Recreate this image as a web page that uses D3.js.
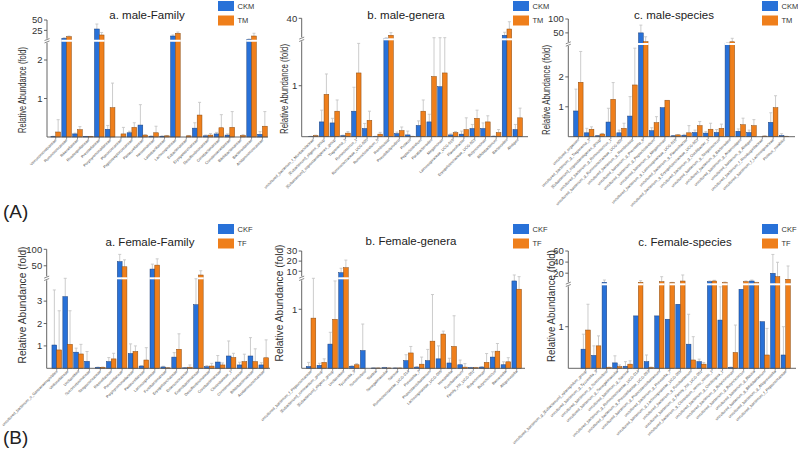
<!DOCTYPE html>
<html><head><meta charset="utf-8">
<script src="https://cdn.jsdelivr.net/npm/d3@7/dist/d3.min.js"></script>
<style>body{margin:0;background:#fff}svg{display:block}text{font-family:"Liberation Sans",Arial,sans-serif}</style>
</head><body><svg id="c" width="798" height="458"></svg>
<script>
// ---------- DATA ----------
const maleFamilyCategories = ["Verrucomicrobiaceae","Ruminococcaceae","Rikenellaceae","Rhodospirillaceae","Prevotellaceae","Porphyromonadaceae","Planococcaceae","Peptostreptococcaceae","Pasteurellaceae","Neisseriaceae","Lactobacillaceae","Lachnospiraceae","Eubacteriaceae","Erysipelotrichaceae","Desulfovibrionaceae","Coriobacteriaceae","Christensenellaceae","Bifidobacteriaceae","Bacteroidaceae","Acidaminococcaceae"];
const maleFamilyCKM   = [0.01,5.9,0.08,0.01,28.3,0.2,0.0,0.11,0.31,0.02,0.02,11.4,0.0,0.23,0.03,0.08,0.05,0.0,3.5,0.07];
const maleFamilyCKMsd = [0.01,1.5,0.02,0.005,12,0.1,0,0.04,0.53,0.01,0.01,2.5,0,0.14,0.02,0.04,0.03,0,0.8,0.07];
const maleFamilyTM    = [0.13,9.8,0.19,0.01,13.9,0.76,0.08,0.25,0.05,0.11,0.03,17.9,0.03,0.57,0.05,0.24,0.25,0.04,11.4,0.28];
const maleFamilyTMsd  = [0.32,1.6,0.08,0.005,6,0.64,0.17,0.12,0.01,0.17,0.01,3,0.01,0.33,0.04,0.34,0.41,0.02,6.6,0.38];
const maleFamilyLowTicks = [1,2];
const maleFamilyHighTicks = [25,50];

const maleGeneraCategories = ["uncultured_bacterium_f_Muribaculaceae","[Eubacterium]_eligens_group","[Eubacterium]_coprostanoligenes_group","Treponema_2","Ruminococcus_1","Ruminococcaceae_UCG-005","Ruminiclostridium_5","Romboutsia","Pseudobutyrivibrio","Proteus","Peptoclostridium","Parabacteroides","Megamonas","Lachnospiraceae_UCG-010","Flavonifractor","Erysipelotrichaceae_UCG-003","Butyricimonas","Bifidobacterium","Bacteroides","Alistipes"];
const maleGeneraCKM   = [0.005,0.29,0.27,0.02,0.5,0.16,0.005,3.8,0.06,0.035,0.22,0.29,0.98,0.035,0.05,0.16,0.16,0.01,9.2,0.14];
const maleGeneraCKMsd = [0.003,0.23,0.09,0.01,0.47,0.1,0.003,1.0,0.03,0.075,0.09,0.15,3.9,0.02,0.06,0.08,0.11,0.005,5.5,0.1];
const maleGeneraTM    = [0.02,0.83,0.5,0.07,1.25,0.32,0.05,9.2,0.12,0.005,0.5,1.18,1.25,0.08,0.14,0.36,0.29,0.08,20.6,0.37];
const maleGeneraTMsd  = [0.01,0.4,0.22,0.03,0.58,0.18,0.035,4.8,0.07,0.003,0.22,3.7,3.65,0.02,0.23,0.16,0.12,0.06,13.2,0.19];
const maleGeneraLowTicks = [1];
const maleGeneraHighTicks = [40];

const maleSpeciesCategories = ["uncultured_organism","uncultured_bacterium_g_Treponema_2","[Eubacterium]_coprostanoligenes_group","uncultured_bacterium_g_Ruminococcus_1","uncultured_bacterium_g_Ruminococcaceae_UCG-005","uncultured_bacterium_g_Romboutsia","uncultured_bacterium_g_Prevotella_9","uncultured_bacterium_g_Peptoclostridium","uncultured_bacterium_g_Megamonas","uncultured_bacterium_g_Lachnospiraceae_UCG-010","uncultured_bacterium_g_Flavonifractor","uncultured_bacterium_g_Erysipelotrichaceae_UCG-003","uncultured_bacterium_g_Oscillibacter_1","uncultured_bacterium_g_Streptococcus","uncultured_bacterium_g_Bacteroides","uncultured_bacterium_g_Anaerostipes","uncultured_bacterium_g_Alistipes","uncultured_bacterium_f_Rhodospirillaceae","uncultured_bacterium_f_Lachnospiraceae","Proteus_mirabilis"];
const maleSpeciesCKM   = [0.86,0.13,0.03,0.49,0.13,0.69,50,0.2,0.97,0.03,0.05,0.14,0.12,0.14,11,0.18,0.14,0.0,0.48,0.04];
const maleSpeciesCKMsd = [0.73,0.15,0.01,0.46,0.09,0.65,28,0.1,0,0.01,0.03,0.08,0.05,0.1,3,0.08,0.08,0,0.32,0.06];
const maleSpeciesTM    = [1.82,0.25,0.09,1.25,0.28,1.73,18.3,0.47,1.22,0.06,0.13,0.37,0.25,0.28,18,0.4,0.37,0.02,0.97,0.01];
const maleSpeciesTMsd  = [1.03,0.08,0.02,0.56,0.17,1.23,17.7,0.2,0,0.01,0.24,0.14,0.2,0.14,12.5,0.22,0.2,0.01,0.4,0.005];
const maleSpeciesLowTicks = [1,2];
const maleSpeciesHighTicks = [50,100];

const femaleFamilyCategories = ["uncultured_bacterium_o_Gastranaerophilales","Veillonellaceae","Unclassified","Succinivibrionaceae","Streptococcaceae","Rikenellaceae","Prevotellaceae","Porphyromonadaceae","Pasteurellaceae","Lachnospiraceae","Fusobacteriaceae","Erysipelotrichaceae","Enterococcaceae","Enterobacteriaceae","Desulfovibrionaceae","Coriobacteriaceae","Clostridiaceae_1","Christensenellaceae","Bifidobacteriaceae","Acidaminococcaceae"];
const femaleFamilyCKF   = [1.04,3.2,0.72,0.31,0.045,0.3,62.6,0.66,0.1,40,0.06,0.5,0.02,2.84,0.07,0.28,0.55,0.15,0.55,0.15];
const femaleFamilyCKFsd = [2.46,0.9,0.18,0.44,0.01,0.18,22,0.43,0.02,15,0.03,0.2,0.01,1.16,0.05,0.29,0.67,0.12,0.82,0.1];
const femaleFamilyTF    = [0.82,1.07,0.64,0.0,0.045,0.42,47,0.75,0.37,52,0.02,0.85,0.05,22,0.1,0.15,0.48,0.3,0.3,0.47];
const femaleFamilyTFsd  = [1.75,1.5,0.43,0,0.01,0.25,21,0.25,0.55,19,0.01,0.69,0.1,13,0.12,0.09,0.19,0.33,0.57,0.8];
const femaleFamilyLowTicks = [1,2,3];
const femaleFamilyHighTicks = [50,100];

const femaleGeneraCategories = ["uncultured_bacterium_f_Peptococcaceae","[Eubacterium]_ruminantium_group","[Eubacterium]_eligens_group","Unclassified","Tyzzerella_3","Succinivibrio","Slackia","Senegalimassilia","Sarcina","Ruminococcaceae_UCG-014","Prevotella_7","Phascolarctobacterium","Lachnospiraceae_UCG-005","Howardella","Fusobacterium","Family_XIII_UCG-001","Butyricimonas","Butyricicoccus","Barnesiella","Alloprevotella"];
const femaleGeneraCKF   = [0.03,0.05,0.41,8.5,0.035,0.3,0.005,0.01,0.005,0.13,0.02,0.13,0.16,0.09,0.06,0.01,0.02,0.19,0.06,1.48];
const femaleGeneraCKFsd = [0.07,0.035,0.2,4.4,0.01,0.45,0.003,0.005,0.003,0.1,0.01,0.19,0.22,0.08,0.08,0.005,0.01,0.09,0.05,4.8];
const femaleGeneraTF    = [0.85,0.1,0.83,13.5,0.06,0.0,0.005,0.005,0.005,0.26,0.07,0.46,0.58,0.37,0.02,0.01,0.1,0.29,0.11,1.34];
const femaleGeneraTFsd  = [0.69,0.06,0.65,7.5,0.02,0,0.003,0.003,0.003,0.11,0.12,0.79,0.05,0.52,0.06,0.005,0.15,0.13,0.07,3.3];
const femaleGeneraLowTicks = [1];
const femaleGeneraHighTicks = [10,20,30];

const femaleSpeciesCategories = ["uncultured_bacterium_g_[Eubacterium]_xylanophilum_group","uncultured_bacterium_g_Tyzzerella_3","uncultured_bacterium_g_Succinivibrio","uncultured_bacterium_g_Senegalimassilia","uncultured_bacterium_g_Sarcina","uncultured_bacterium_g_Ruminococcaceae_UCG-014","uncultured_bacterium_g_Prevotellaceae_UCG-003","uncultured_bacterium_g_Phascolarctobacterium","uncultured_bacterium_g_Prevotella_7","uncultured_bacterium_g_Lachnospiraceae_UCG-005","uncultured_bacterium_g_Fusobacterium","uncultured_bacterium_g_Family_XIII_UCG-001","uncultured_bacterium_g_Clostridium_sensu_stricto_1","uncultured_bacterium_g_Oscillospira_1","uncultured_bacterium_g_Butyricimonas","uncultured_bacterium_g_Butyricicoccus","uncultured_bacterium_g_Blautia","uncultured_bacterium_g_Bifidobacterium","uncultured_bacterium_g_Alloprevotella","uncultured_bacterium_f_Peptococcaceae"];
const femaleSpeciesCKF   = [0.46,0.31,3.6,0.13,0.05,1.26,0.16,1.26,1.18,1.54,0.58,0.16,4.7,1.16,0.02,1.9,5.9,1.12,19.8,0.32];
const femaleSpeciesCKFsd = [0.36,0.23,4.1,0.17,0.11,0,0.16,0,0,0,0.72,0.06,1.3,0.8,0.01,0,1.8,0,34,0.68];
const femaleSpeciesTF    = [0.92,0.54,0.02,0.04,0.1,3.6,0.02,4.7,3.0,5.9,0.2,0.1,5.9,3.0,0.38,4.7,3.0,0.32,13.7,9];
const femaleSpeciesTFsd  = [0.62,0.24,0.01,0.04,0.08,2.9,0.01,9,0.5,10.9,0.56,0.04,1.3,1.1,0.66,1.3,0.5,0.64,26,24];
const femaleSpeciesLowTicks = [1];
const femaleSpeciesHighTicks = [20,40,60];

const maleSeriesNames = ["CKM","TM"];
const femaleSeriesNames = ["CKF","TF"];

// ---------- LAYOUT ----------
const COLORS = ["#2871d8","#ef7f1b"];
const STROKES = ["#1d3f78","#8a4a10"];

const panels = [
 {title:"a. male-Family", cats:maleFamilyCategories, s:[maleFamilyCKM,maleFamilyTM], sd:[maleFamilyCKMsd,maleFamilyTMsd], names:maleSeriesNames, low:maleFamilyLowTicks, high:maleFamilyHighTicks,
  ax:47, x0:50.3, x1:267.9, axEnd:268, base:137, brk:40.75, top:20, lowMax:2.5, upLo:0, upHi:50, tx:147, ty:19, lx:218, ly:1, ylx:22, yly:90, yll:86},
 {title:"b. male-genera", cats:maleGeneraCategories, s:[maleGeneraCKM,maleGeneraTM], sd:[maleGeneraCKMsd,maleGeneraTMsd], names:maleSeriesNames, low:maleGeneraLowTicks, high:maleGeneraHighTicks,
  ax:301.7, x0:307.9, x1:523.1, axEnd:528, base:136.7, brk:39.3, top:18.3, lowMax:1.91, upLo:2, upHi:40, tx:406, ty:19, lx:513, ly:1, ylx:284, yly:89, yll:90},
 {title:"c. male-species", cats:maleSpeciesCategories, s:[maleSpeciesCKM,maleSpeciesTM], sd:[maleSpeciesCKMsd,maleSpeciesTMsd], names:maleSeriesNames, low:maleSpeciesLowTicks, high:maleSpeciesHighTicks,
  ax:568.3, x0:572.9, x1:789.4, axEnd:795, base:136.7, brk:44, top:19, lowMax:3.1, upLo:10, upHi:100, tx:674, ty:19, lx:762, ly:1, ylx:546, yly:90, yll:90},
 {title:"a. Female-Family", cats:femaleFamilyCategories, s:[femaleFamilyCKF,femaleFamilyTF], sd:[femaleFamilyCKFsd,femaleFamilyTFsd], names:femaleSeriesNames, low:femaleFamilyLowTicks, high:femaleFamilyHighTicks,
  ax:46.7, x0:51.3, x1:269.2, axEnd:270, base:368.3, brk:278.3, top:249.3, lowMax:4.02, upLo:12, upHi:100, tx:150, ty:246, lx:218, ly:224, ylx:22, yly:305, yll:117},
 {title:"b. Female-genera", cats:femaleGeneraCategories, s:[femaleGeneraCKF,femaleGeneraTF], sd:[femaleGeneraCKFsd,femaleGeneraTFsd], names:femaleSeriesNames, low:femaleGeneraLowTicks, high:femaleGeneraHighTicks,
  ax:301.7, x0:305.6, x1:522.1, axEnd:525, base:368.3, brk:278.3, top:251, lowMax:1.525, upLo:3, upHi:30, tx:411, ty:245, lx:513, ly:224, ylx:279, yly:303, yll:117},
 {title:"c. Female-species", cats:femaleSpeciesCategories, s:[femaleSpeciesCKF,femaleSpeciesTF], sd:[femaleSpeciesCKFsd,femaleSpeciesTFsd], names:femaleSeriesNames, low:femaleSpeciesLowTicks, high:femaleSpeciesHighTicks,
  ax:568.3, x0:580.4, x1:791, axEnd:796, base:368.3, brk:284.3, top:251, lowMax:2.02, upLo:0, upHi:60, tx:685, ty:246, lx:762, ly:224, ylx:551, yly:306, yll:112}
];

const svg = d3.select("#c");
svg.append("rect").attr("width",798).attr("height",458).attr("fill","#fff");

panels.forEach(p => {
  const g = svg.append("g");
  const low = d3.scaleLinear().domain([0,p.lowMax]).range([p.base,p.brk]);
  const high = d3.scaleLinear().domain([p.upLo,p.upHi]).range([p.brk,p.top]);
  const y = v => v <= p.lowMax ? low(v) : high(Math.max(v,p.upLo));
  const x = d3.scaleBand().domain(p.cats).range([p.x0,p.x1]).paddingInner(0.12).paddingOuter(0.06);
  const xs = d3.scaleBand().domain([0,1]).range([0,x.bandwidth()]);

  [0,1].forEach(k => {
    const data = p.cats.map((c,i)=>({c, v:p.s[k][i], sd:p.sd[k][i]}));
    const bx = d => x(d.c)+xs(k);
    const bw = xs.bandwidth();
    const eg = g.append("g").attr("stroke","#c6c6c6").attr("stroke-width",0.9).attr("fill","none");
    data.filter(d=>d.sd>0).forEach(d=>{
      const cx = bx(d)+bw/2, y0=y(d.v), y1=y(d.v+d.sd);
      eg.append("line").attr("x1",cx).attr("x2",cx).attr("y1",y0).attr("y2",y1);
      eg.append("line").attr("x1",cx-1.5).attr("x2",cx+1.5).attr("y1",y1).attr("y2",y1);
    });
    g.append("g").selectAll("rect").data(data).join("rect")
      .attr("x",bx).attr("width",bw)
      .attr("y",d=>y(d.v)).attr("height",d=>Math.max(0,p.base-y(d.v)))
      .attr("fill",COLORS[k]).attr("stroke",STROKES[k]).attr("stroke-width",0.5);
    g.append("g").selectAll("rect").data(data.filter(d=>d.v>p.lowMax)).join("rect")
      .attr("x",d=>bx(d)-0.6).attr("width",bw+1.2).attr("y",p.brk-1).attr("height",2).attr("fill","#fff");
  });

  const ag = g.append("g").attr("stroke","#555").attr("stroke-width",0.9).attr("fill","none");
  ag.append("line").attr("x1",p.ax).attr("x2",p.ax).attr("y1",p.base).attr("y2",p.brk+2);
  ag.append("line").attr("x1",p.ax).attr("x2",p.ax).attr("y1",p.brk-2).attr("y2",p.top);
  ag.append("path").attr("d",`M${p.ax-2.5},${p.brk+2.2}L${p.ax+2.5},${p.brk+0.2}M${p.ax-2.5},${p.brk-0.2}L${p.ax+2.5},${p.brk-2.2}`).attr("stroke-width",0.7);
  ag.append("line").attr("x1",p.ax).attr("x2",p.axEnd).attr("y1",p.base).attr("y2",p.base);
  p.cats.forEach(c=>{
    const cx = x(c)+x.bandwidth()/2;
    ag.append("line").attr("x1",cx).attr("x2",cx).attr("y1",p.base).attr("y2",p.base+2.5).attr("stroke-width",0.6);
  });
  const tickList = p.low.map(v=>({v,yy:low(v)})).concat(p.high.map(v=>({v,yy:high(v)})));
  tickList.forEach(t=>{
    ag.append("line").attr("x1",p.ax-3).attr("x2",p.ax).attr("y1",t.yy).attr("y2",t.yy);
    g.append("text").attr("x",p.ax-4.5).attr("y",t.yy).attr("dy","0.35em").attr("text-anchor","end")
      .attr("font-size",9.5).attr("fill","#333").text(t.v);
  });
  p.cats.forEach(c=>{
    const cx = x(c)+x.bandwidth()/2;
    g.append("text").attr("transform",`translate(${cx+1},${p.base+3.5}) rotate(-45)`)
      .attr("text-anchor","end").attr("font-size",3.8).attr("fill","#4a4a4a").text(c);
  });
  g.append("text").attr("transform",`translate(${p.ylx},${p.yly}) rotate(-90)`).attr("dy","0.35em")
    .attr("text-anchor","middle").attr("font-size",11.5).attr("fill","#333")
    .attr("textLength",p.yll).attr("lengthAdjust","spacingAndGlyphs").text("Relative Abundance (fold)");
  g.append("text").attr("x",p.tx).attr("y",p.ty).attr("text-anchor","middle").attr("font-size",11.5).attr("fill","#222").text(p.title);
  p.names.forEach((n,k)=>{
    g.append("rect").attr("x",p.lx).attr("y",p.ly+k*14.5).attr("width",16).attr("height",10).attr("fill",COLORS[k]);
    g.append("text").attr("x",p.lx+19.5).attr("y",p.ly+k*14.5+5).attr("dy","0.35em").attr("font-size",7.5).attr("fill","#333").text(n);
  });
});

svg.append("text").attr("x",3).attr("y",218).attr("font-size",19).attr("fill","#222").text("(A)");
svg.append("text").attr("x",3).attr("y",444).attr("font-size",19).attr("fill","#222").text("(B)");
</script></body></html>
